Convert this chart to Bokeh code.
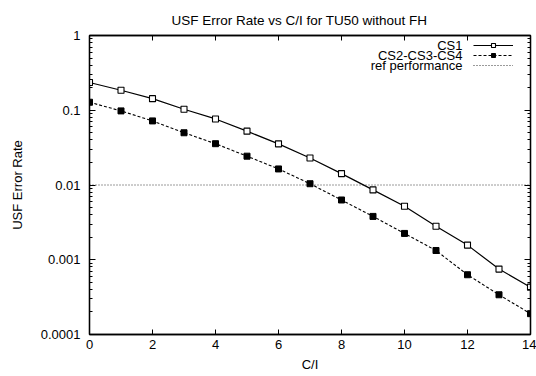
from bokeh.plotting import figure
from bokeh.models import (FixedTicker, CustomJSTickFormatter, LinearAxis, LogAxis,
                          Legend, LegendItem, Label, Range1d)
from bokeh.embed import file_html
from bokeh.resources import INLINE

# ---- data ----
ci = list(range(15))
cs1 = [0.235, 0.185, 0.143, 0.103, 0.0765, 0.0525, 0.0355, 0.0230, 0.0142,
       0.0086, 0.0052, 0.0028, 0.00157, 0.00075, 0.00043]
cs234 = [0.128, 0.098, 0.072, 0.050, 0.0357, 0.0243, 0.0164, 0.0104, 0.0063,
         0.0038, 0.00225, 0.00133, 0.00063, 0.00034, 0.00019]
ref_x = [0, 14]
ref_y = [0.01, 0.01]

x_ticks = [0, 2, 4, 6, 8, 10, 12, 14]
y_ticks = [0.0001, 0.001, 0.01, 0.1, 1]
y_tick_labels = ["0.0001", "0.001", "0.01", "0.1", "1"]
legend_labels = ["CS1", "CS2-CS3-CS4", "ref performance"]
title_text = "USF Error Rate vs C/I for TU50 without FH"
x_label = "C/I"
y_label = "USF Error Rate"

FONT = "Liberation Sans"
y_minor = [m * 10.0 ** e for e in range(-4, 0) for m in range(2, 10)]

p = figure(width=536, height=376, y_axis_type="log",
           x_range=Range1d(0, 14), y_range=Range1d(1e-4, 1),
           output_backend="svg", toolbar_location=None,
           min_border_left=89, min_border_right=6, min_border_top=35,
           min_border_bottom=42)
p.grid.visible = False
p.outline_line_color = "black"
p.outline_line_width = 1.3

# title
p.title.text = title_text
p.title.align = "left"
p.title.offset = 82
p.title.standoff = 16
p.title.text_font = FONT
p.title.text_font_size = "13.5px"
p.title.text_font_style = "normal"
p.title.text_color = "black"

# axes
fmt = CustomJSTickFormatter(args=dict(yt=y_ticks, yl=y_tick_labels), code="""
let best = 0, bd = Infinity;
for (let i = 0; i < yt.length; i++) {
  const d = Math.abs(Math.log10(yt[i]) - Math.log10(tick));
  if (d < bd) { bd = d; best = i; }
}
return yl[best];
""")
blank = CustomJSTickFormatter(code="return '';")

top = LinearAxis(ticker=FixedTicker(ticks=x_ticks, minor_ticks=[]))
p.add_layout(top, "above")
right = LogAxis(ticker=FixedTicker(ticks=y_ticks, minor_ticks=y_minor))
p.add_layout(right, "right")

for ax in p.xaxis:
    ax.ticker = FixedTicker(ticks=x_ticks, minor_ticks=[])
    ax.major_tick_in = 5
    ax.major_tick_out = 0
    ax.minor_tick_in = 0
    ax.minor_tick_out = 0
    ax.axis_line_color = "black"
    ax.axis_line_width = 1.3
    ax.major_tick_line_color = "black"
    ax.major_label_text_font = FONT
    ax.major_label_text_font_size = "13px"
    ax.major_label_text_color = "black"
    ax.major_label_standoff = 5

for ax in p.yaxis:
    ax.ticker = FixedTicker(ticks=y_ticks, minor_ticks=y_minor)
    ax.formatter = fmt
    ax.major_tick_in = 6
    ax.major_tick_out = 0
    ax.minor_tick_in = 3
    ax.minor_tick_out = 0
    ax.axis_line_color = "black"
    ax.axis_line_width = 1.3
    ax.major_tick_line_color = "black"
    ax.minor_tick_line_color = "black"
    ax.major_label_text_font = FONT
    ax.major_label_text_font_size = "13px"
    ax.major_label_text_color = "black"
    ax.major_label_standoff = 9

top.formatter = blank
top.major_label_standoff = 0
right.formatter = blank
right.major_label_standoff = 0

bottom = p.below[0]
bottom.axis_label = x_label
bottom.axis_label_text_font = FONT
bottom.axis_label_text_font_size = "13px"
bottom.axis_label_text_font_style = "normal"
bottom.axis_label_text_color = "black"
bottom.axis_label_standoff = 5

left = p.left[0]
left.axis_label = y_label
left.axis_label_text_font = FONT
left.axis_label_text_font_size = "13px"
left.axis_label_text_font_style = "normal"
left.axis_label_text_color = "black"
left.axis_label_standoff = 13

# series
ref_line = p.line(ref_x, ref_y, line_color="black", line_width=0.8, line_dash="1 2")
l1 = p.line(ci, cs1, line_color="black", line_width=1.2)
m1 = p.scatter(ci, cs1, marker="square", size=6, fill_color="white",
               line_color="black", line_width=1.1)
l2 = p.line(ci, cs234, line_color="black", line_width=1.1, line_dash="3 2")
m2 = p.scatter(ci, cs234, marker="square", size=6, fill_color="black",
               line_color="black")

legend = Legend(items=[LegendItem(label=" ", renderers=[l1, m1]),
                       LegendItem(label=" ", renderers=[l2, m2]),
                       LegendItem(label=" ", renderers=[ref_line])],
                location=(384, 264), glyph_width=40, glyph_height=10,
                label_width=0, label_height=10, label_standoff=0, padding=0,
                spacing=0, margin=0, border_line_color=None,
                background_fill_alpha=0, label_text_font_size="6px")
p.add_layout(legend)

for i, txt in enumerate(legend_labels):
    p.add_layout(Label(x=373, y=289 - 10 * i, x_units="screen", y_units="screen",
                       text=txt, text_align="right", text_baseline="middle",
                       text_font=FONT, text_font_size="13px", text_color="black"))

open("out.html", "w").write(file_html(p, INLINE))
